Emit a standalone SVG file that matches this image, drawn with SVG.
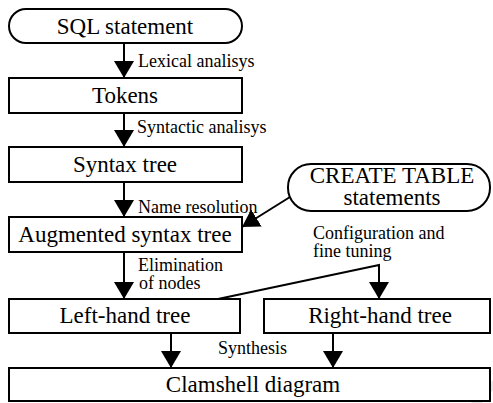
<svg xmlns="http://www.w3.org/2000/svg" width="493" height="403" viewBox="0 0 493 403">
<style>
text{font-family:"Liberation Serif","Times New Roman",Tinos,Times,"Nimbus Roman","Nimbus Roman No9 L",FreeSerif,"Noto Serif","DejaVu Serif",Georgia,serif}
.box{fill:#fff;stroke:#000;stroke-width:2}
.t{font-size:23px;fill:#000;text-anchor:middle}
.l{font-size:18px;fill:#000}
.c{fill:none;stroke:#000;stroke-width:2}
</style>
<defs>
<marker id="ah" viewBox="0 -10 17 20" refX="17" refY="0" markerWidth="17" markerHeight="20" markerUnits="userSpaceOnUse" orient="auto">
<path d="M0,-10 L17,0 L0,10 z" fill="#000"/>
</marker>
</defs>
<rect width="493" height="403" fill="#fff"/>
<polygon points="471,403 493,380 493,390 482,403" fill="#e6e6e6"/>
<g id="connectors">
<line class="c" x1="124" y1="43" x2="124" y2="78" marker-end="url(#ah)"/>
<line class="c" x1="124" y1="113" x2="124" y2="147" marker-end="url(#ah)"/>
<line class="c" x1="124" y1="182" x2="124" y2="217" marker-end="url(#ah)"/>
<line class="c" x1="290" y1="197" x2="242" y2="227" marker-end="url(#ah)"/>
<line class="c" x1="124" y1="252" x2="124" y2="299" marker-end="url(#ah)"/>
<polyline class="c" points="218,299 379,265 379,299" marker-end="url(#ah)"/>
<line class="c" x1="171" y1="333" x2="171" y2="368" marker-end="url(#ah)"/>
<line class="c" x1="333" y1="333" x2="333" y2="368" marker-end="url(#ah)"/>
<text class="l" x="138" y="67">Lexical analisys</text>
<text class="l" x="137" y="133">Syntactic analisys</text>
<text class="l" x="138" y="213">Name resolution</text>
<text class="l" x="138" y="271">Elimination</text>
<text class="l" x="139" y="289">of nodes</text>
<text class="l" x="313" y="239">Configuration and</text>
<text class="l" x="313" y="257">fine tuning</text>
<text class="l" x="218" y="354">Synthesis</text>
</g>
<g id="sql">
<rect class="box" x="9" y="9" width="233" height="34" rx="17" ry="17"/>
<text class="t" x="125" y="34">SQL statement</text>
</g>
<g id="tokens">
<rect class="box" x="9" y="78" width="233" height="35"/>
<text class="t" x="125" y="103">Tokens</text>
</g>
<g id="syntax">
<rect class="box" x="9" y="147" width="233" height="35"/>
<text class="t" x="125" y="172">Syntax tree</text>
</g>
<g id="create">
<rect class="box" x="288" y="164" width="202" height="47" rx="23" ry="23"/>
<text class="t" x="392" y="183">CREATE TABLE</text>
<text class="t" x="392" y="205">statements</text>
</g>
<g id="augmented">
<rect class="box" x="9" y="217" width="233" height="35"/>
<text class="t" x="125" y="242">Augmented syntax tree</text>
</g>
<g id="left">
<rect class="box" x="9" y="299" width="231" height="34"/>
<text class="t" x="125" y="323">Left-hand tree</text>
</g>
<g id="right">
<rect class="box" x="264" y="299" width="226" height="34"/>
<text class="t" x="380" y="323">Right-hand tree</text>
</g>
<g id="clamshell">
<rect class="box" x="9" y="368" width="481" height="33"/>
<text class="t" x="253" y="392">Clamshell diagram</text>
</g>
</svg>
